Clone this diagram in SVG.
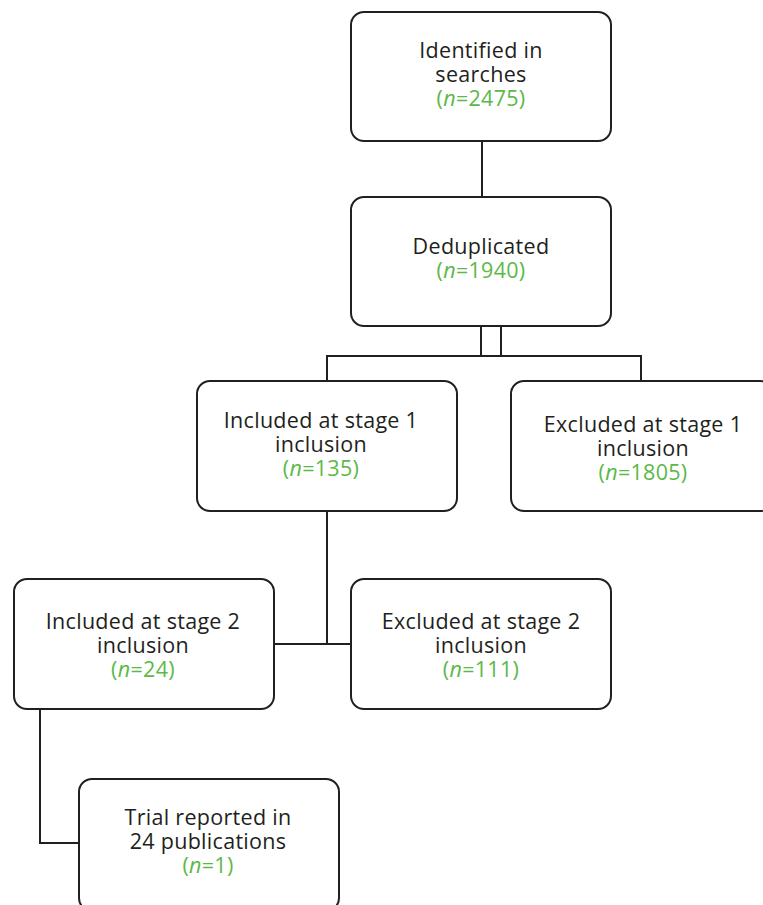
<svg xmlns="http://www.w3.org/2000/svg" width="763" height="905" viewBox="0 0 763 905">
<style>
.box{fill:#fff;stroke:#231f20;stroke-width:2}
.ln{fill:none;stroke:#231f20;stroke-width:2}
text{font-family:"Open Sans","Noto Sans",sans-serif;font-size:21.5px;letter-spacing:0.3px;fill:#231f20;text-anchor:middle}
.g{fill:#5bb947}
.i{font-style:italic}
</style>
<rect width="763" height="905" fill="#fff"/>
<g id="connectors">
<line class="ln" x1="482" y1="141" x2="482" y2="197"/>
<path class="ln" d="M481 326 V356 M501 326 V356 M327 381 V356 H641 V381"/>
<path class="ln" d="M327 511 V644 M274 644 H351"/>
<path class="ln" d="M40 709 V843 H79"/>
</g>
<g id="identified"><rect class="box" x="351" y="12" width="260" height="129" rx="13"/>
<text x="481" y="58">Identified in<tspan x="481" dy="24">searches</tspan><tspan x="481" dy="24" class="g">(<tspan class="i">n</tspan>=2475)</tspan></text></g>
<g id="deduplicated"><rect class="box" x="351" y="197" width="260" height="129" rx="13"/>
<text x="481" y="254">Deduplicated<tspan x="481" dy="24" class="g">(<tspan class="i">n</tspan>=1940)</tspan></text></g>
<g id="inc1"><rect class="box" x="197" y="381" width="260" height="130" rx="13"/>
<text x="321" y="428">Included at stage 1<tspan x="321" dy="24">inclusion</tspan><tspan x="321" dy="24" class="g">(<tspan class="i">n</tspan>=135)</tspan></text></g>
<g id="exc1"><rect class="box" x="511" y="381" width="262" height="130" rx="13"/>
<text x="643" y="432">Excluded at stage 1<tspan x="643" dy="24">inclusion</tspan><tspan x="643" dy="24" class="g">(<tspan class="i">n</tspan>=1805)</tspan></text></g>
<g id="inc2"><rect class="box" x="14" y="579" width="260" height="130" rx="13"/>
<text x="143" y="629">Included at stage 2<tspan x="143" dy="24">inclusion</tspan><tspan x="143" dy="24" class="g">(<tspan class="i">n</tspan>=24)</tspan></text></g>
<g id="exc2"><rect class="box" x="351" y="579" width="260" height="130" rx="13"/>
<text x="481" y="629">Excluded at stage 2<tspan x="481" dy="24">inclusion</tspan><tspan x="481" dy="24" class="g">(<tspan class="i">n</tspan>=111)</tspan></text></g>
<g id="trial"><rect class="box" x="79" y="779" width="260" height="132" rx="13"/>
<text x="208" y="825">Trial reported in<tspan x="208" dy="24">24 publications</tspan><tspan x="208" dy="24" class="g">(<tspan class="i">n</tspan>=1)</tspan></text></g>
</svg>
